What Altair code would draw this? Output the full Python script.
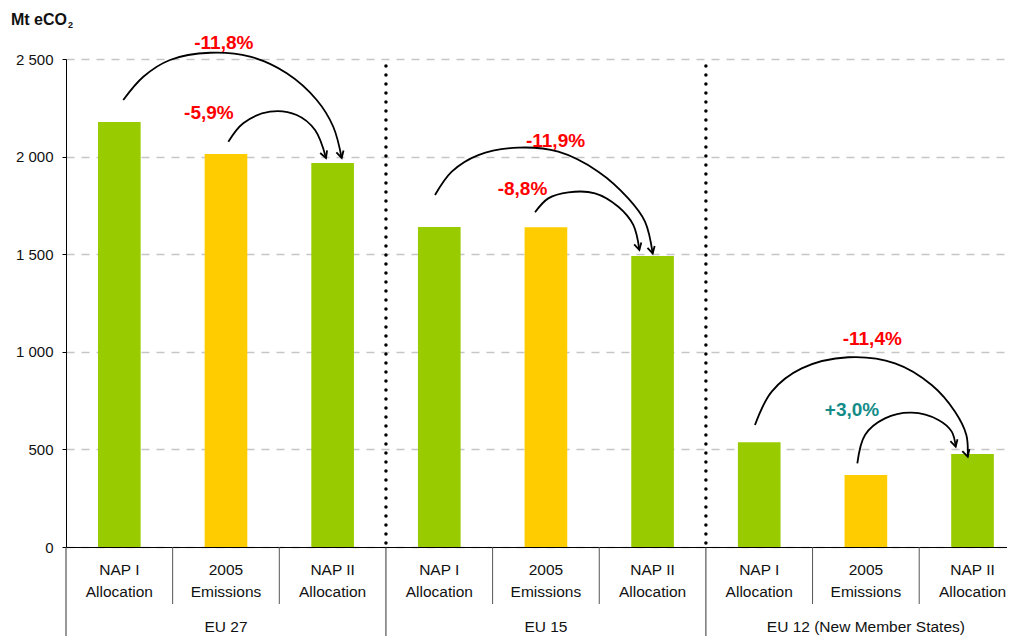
import altair as alt
import pandas as pd

# ---------------- data ----------------
groups = ["EU 27", "EU 15", "EU 12 (New Member States)"]
group_center = [1.5, 4.5, 7.5]
cat_labels = ["NAP I\nAllocation", "2005\nEmissions", "NAP II\nAllocation"] * 3
kinds = ["NAP", "Emissions", "NAP"] * 3
values = [2177, 2013, 1967, 1639, 1638, 1491, 536, 369, 476]

pct_text = ["-11,8%", "-5,9%", "-11,9%", "-8,8%", "-11,4%", "+3,0%"]
pct_x = [1.48, 1.34, 4.59, 4.28, 7.56, 7.37]
pct_y = [2582, 2223, 2080, 1834, 1066, 702]
pct_sign = ["neg", "neg", "neg", "neg", "neg", "pos"]

# curved arrows (data units)
arc1_x = [0.537, 0.725, 0.975, 1.351, 1.726, 2.070, 2.351, 2.506, 2.585]
arc1_y = [2290, 2409, 2495, 2532, 2512, 2427, 2290, 2153, 1993]
arc2_x = [1.522, 1.662, 1.913, 2.163, 2.335, 2.438]
arc2_y = [2076, 2171, 2230, 2213, 2136, 1993]
arc3_x = [3.460, 3.617, 3.866, 4.241, 4.616, 4.991, 5.272, 5.429, 5.501]
arc3_y = [1803, 1923, 2008, 2046, 2025, 1923, 1786, 1667, 1504]
arc4_x = [4.398, 4.522, 4.710, 4.960, 5.179, 5.319, 5.376]
arc4_y = [1715, 1786, 1817, 1812, 1743, 1650, 1522]
arc5_x = [6.460, 6.617, 6.898, 7.335, 7.773, 8.117, 8.336, 8.442, 8.455]
arc5_y = [625, 796, 915, 972, 941, 830, 693, 574, 463]
arc6_x = [7.420, 7.492, 7.679, 7.930, 8.180, 8.305, 8.342]
arc6_y = [429, 574, 659, 688, 651, 591, 514]
arrow_angle = [345, 339, 346, 346, 344, 345]

inner_bounds = [1, 2, 4, 5, 7, 8]
group_bounds = [0, 3, 6]
dotted_bounds = [3, 6]
y_ticks = [0, 500, 1000, 1500, 2000, 2500]

# ---------------- layout ----------------
PW, PH = 941, 488
x_scale = alt.Scale(domain=[0, PW / 106.65], nice=False, zero=False)
y_scale = alt.Scale(domain=[0, 2500], nice=False)
FONT = "Liberation Sans"

bars_df = pd.DataFrame({"idx": list(range(9)), "kind": kinds, "value": values,
                        "label": cat_labels})
arcs = [(arc1_x, arc1_y), (arc2_x, arc2_y), (arc3_x, arc3_y),
        (arc4_x, arc4_y), (arc5_x, arc5_y), (arc6_x, arc6_y)]
arc_rows, head_rows = [], []
for a, (xs, ys) in enumerate(arcs):
    for k, (xx, yy) in enumerate(zip(xs, ys)):
        arc_rows.append({"arc": a, "k": k, "x": xx, "y": yy})
    head_rows.append({"x": xs[-1], "y": ys[-1], "ang": arrow_angle[a]})
arc_df = pd.DataFrame(arc_rows)
head_df = pd.DataFrame(head_rows)
pct_df = pd.DataFrame({"x": pct_x, "y": pct_y, "t": pct_text, "s": pct_sign})
inner_df = pd.DataFrame({"b": inner_bounds})
group_df = pd.DataFrame({"b": group_bounds})
dot_df = pd.DataFrame({"b": dotted_bounds})
grp_df = pd.DataFrame({"g": groups, "c": group_center})

base_x_axis = alt.Axis(labels=False, ticks=False, grid=False, domain=True,
                       domainColor="black", domainWidth=1, title=None)

bars = alt.Chart(bars_df).transform_calculate(
    x0="datum.idx + 0.3", x1="datum.idx + 0.7"
).mark_bar().encode(
    x=alt.X("x0:Q", scale=x_scale, axis=base_x_axis),
    x2="x1:Q",
    y=alt.Y("value:Q", scale=y_scale,
            axis=alt.Axis(values=y_ticks, title=None, tickSize=4, tickColor="black",
                          domainColor="black", labelFontSize=15, labelFont=FONT,
                          labelColor="#111", labelPadding=9,
                          labelExpr="replace(format(datum.value, ','), ',', ' ')",
                          grid=True, gridDash=[8, 7], gridColor="#c6c6c6",
                          gridWidth=1.5)),
    y2=alt.datum(0),
    color=alt.Color("kind:N", scale=alt.Scale(domain=["NAP", "Emissions"],
                                              range=["#99CC00", "#FFCC00"]),
                    legend=None),
)

dotted = alt.Chart(dot_df).mark_rule(
    color="black", strokeWidth=3.5, strokeDash=[0.1, 8.9], strokeCap="round"
).encode(x=alt.X("b:Q", scale=x_scale), y=alt.value(7), y2=alt.value(PH))

inner_sep = alt.Chart(inner_df).mark_rule(color="#555", strokeWidth=1).encode(
    x=alt.X("b:Q", scale=x_scale), y=alt.value(PH), y2=alt.value(PH + 57))
group_sep = alt.Chart(group_df).mark_rule(color="#333", strokeWidth=1).encode(
    x=alt.X("b:Q", scale=x_scale), y=alt.value(PH), y2=alt.value(PH + 95))

cat_text = alt.Chart(bars_df).transform_calculate(xc="datum.idx + 0.5").mark_text(
    font=FONT, fontSize=15.5, color="#111", lineBreak="\n", lineHeight=22,
    baseline="middle", align="center"
).encode(x=alt.X("xc:Q", scale=x_scale), y=alt.value(PH + 23), text="label:N")

grp_text = alt.Chart(grp_df).mark_text(
    font=FONT, fontSize=15.5, color="#111", baseline="middle", align="center"
).encode(x=alt.X("c:Q", scale=x_scale), y=alt.value(PH + 80), text="g:N")

arc_lines = alt.Chart(arc_df).mark_line(
    color="black", strokeWidth=1.8, interpolate="catmull-rom"
).encode(x=alt.X("x:Q", scale=x_scale), y=alt.Y("y:Q", scale=y_scale),
         detail="arc:N", order="k:Q")

heads = alt.Chart(head_df).mark_point(
    shape="M -0.55 -1 L 0 0 L 0.55 -1", filled=False, color="black",
    strokeWidth=1.8, size=180, opacity=1
).encode(x=alt.X("x:Q", scale=x_scale), y=alt.Y("y:Q", scale=y_scale),
         angle=alt.Angle("ang:Q", scale=None))

pct = alt.Chart(pct_df).mark_text(
    font=FONT, fontSize=19, fontWeight="bold", baseline="middle", align="center"
).encode(x=alt.X("x:Q", scale=x_scale), y=alt.Y("y:Q", scale=y_scale), text="t:N",
         color=alt.Color("s:N", scale=alt.Scale(domain=["neg", "pos"],
                                                range=["#FF0000", "#138C88"]),
                         legend=None))

title_main = alt.Chart(pd.DataFrame({"t": ["Mt eCO"]})).mark_text(
    font=FONT, fontSize=16, fontWeight="bold", align="left", baseline="alphabetic",
    color="#111"
).encode(x=alt.value(-55), y=alt.value(-34), text="t:N")
title_sub = alt.Chart(pd.DataFrame({"t": ["2"]})).mark_text(
    font=FONT, fontSize=9, fontWeight="bold", align="left", baseline="alphabetic",
    color="#111"
).encode(x=alt.value(2), y=alt.value(-31), text="t:N")

chart = alt.layer(
    bars, dotted, inner_sep, group_sep, cat_text, grp_text,
    arc_lines, heads, pct, title_main, title_sub
).resolve_scale(color="independent").properties(
    width=PW, height=PH,
    autosize=alt.AutoSizeParams(type="none"),
    padding={"left": 58, "top": 51, "right": 0, "bottom": 89},
).configure_view(stroke=None)

chart.save("out.html", embed_options={"renderer": "svg", "actions": False})
